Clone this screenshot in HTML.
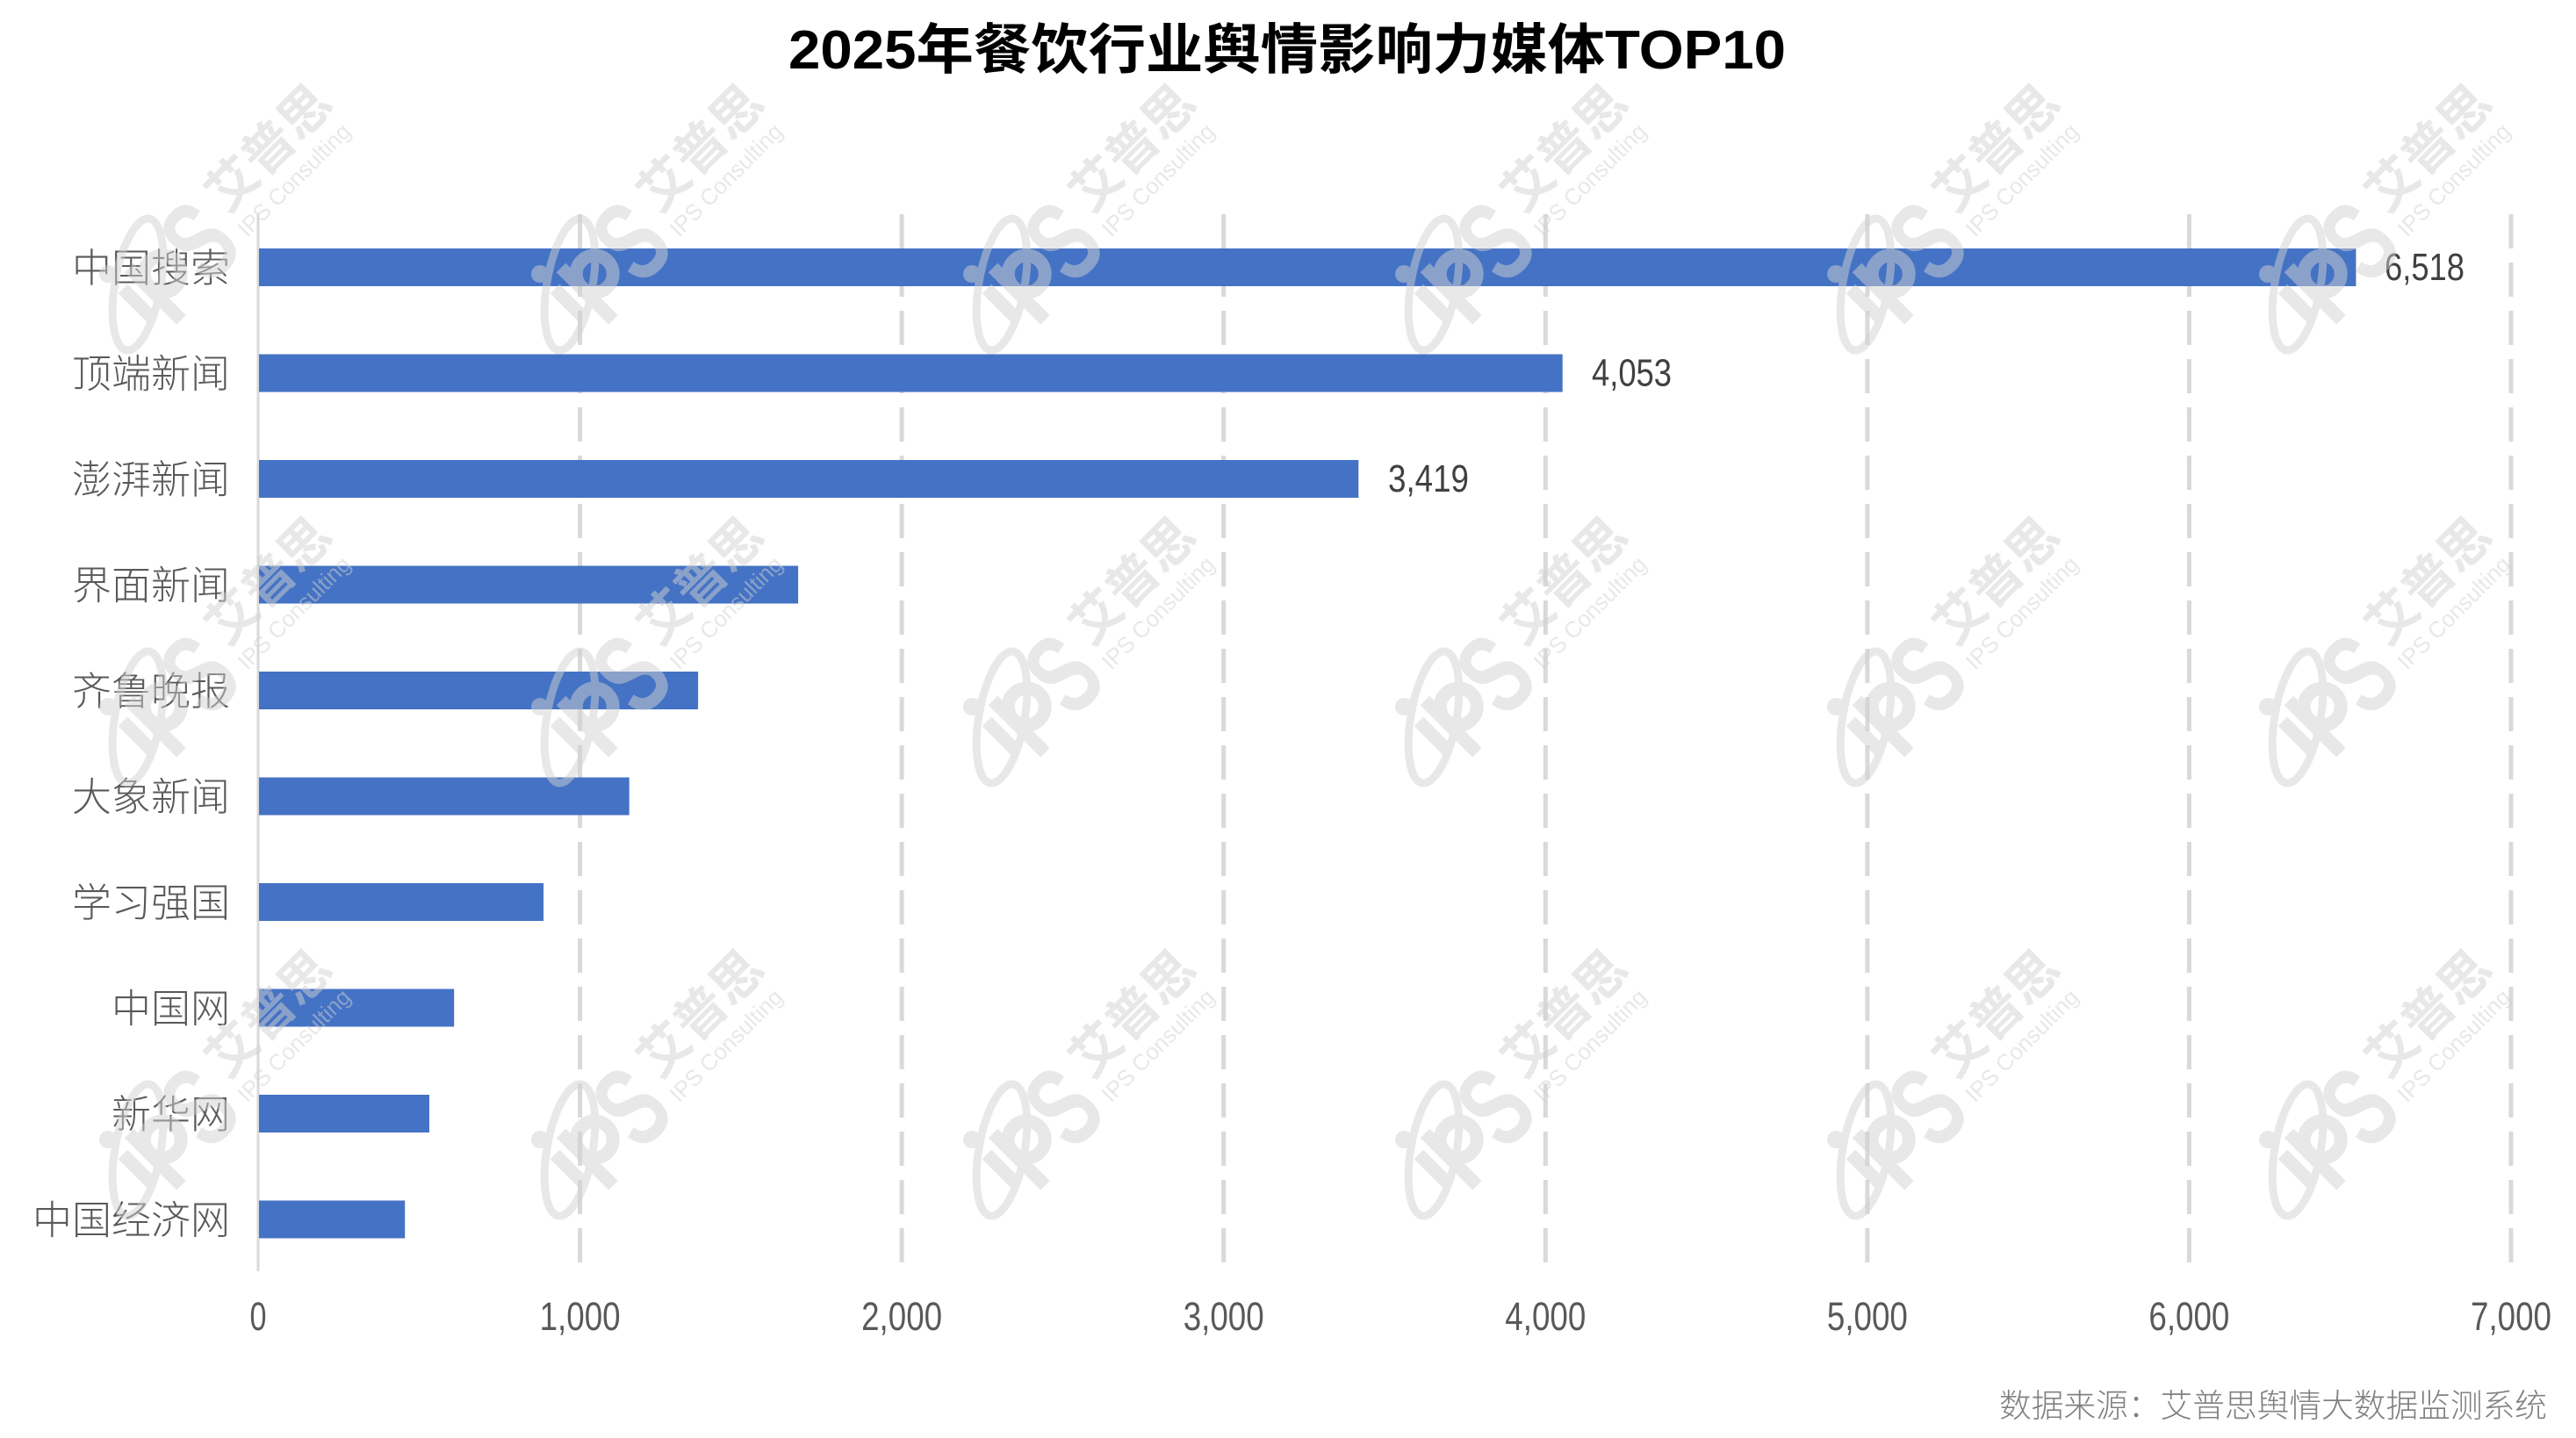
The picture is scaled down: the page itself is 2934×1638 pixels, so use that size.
<!DOCTYPE html>
<html><head><meta charset="utf-8">
<style>
html,body{margin:0;padding:0;background:#fff;width:2934px;height:1638px;overflow:hidden;}
svg{display:block;overflow:hidden;}
.cat{font-family:"Liberation Sans","Noto Sans CJK SC",sans-serif;font-weight:300;font-size:45px;fill:#595959;}
.num{font-family:"Liberation Sans","Noto Sans CJK SC",sans-serif;font-weight:400;font-size:45px;fill:#595959;}
.val{font-family:"Liberation Sans","Noto Sans CJK SC",sans-serif;font-weight:400;font-size:44px;fill:#404040;}
.ttl{font-family:"Liberation Sans","Noto Sans CJK SC",sans-serif;font-weight:700;font-size:62px;fill:#000;}
.src{font-family:"Liberation Sans","Noto Sans CJK SC",sans-serif;font-weight:300;font-size:37px;fill:#808080;}
.wm{opacity:0.5;fill:#d0d0d0;}
.wm .st{fill:none;stroke:#d0d0d0;stroke-width:15;}
.wm .sw{fill:none;stroke:#d0d0d0;stroke-width:9;}
.wm .s{font-family:"Liberation Sans",sans-serif;font-weight:700;font-size:130px;}
.wm .ai{font-family:"Liberation Sans","Noto Sans CJK SC",sans-serif;font-weight:700;font-size:58px;}
.wm .ic{font-family:"Liberation Sans",sans-serif;font-size:26px;}
</style></head>
<body>
<svg width="2934" height="1638" viewBox="0 0 2934 1638" xmlns="http://www.w3.org/2000/svg">
<rect width="2934" height="1638" fill="#fff"/>
<text class="ttl" x="898" y="78" textLength="1136" lengthAdjust="spacingAndGlyphs">2025年餐饮行业舆情影响力媒体TOP10</text>

<g stroke="#d9d9d9" stroke-width="5" stroke-dasharray="39 16">
<line x1="660.6" y1="244" x2="660.6" y2="1441"/>
<line x1="1027.1" y1="244" x2="1027.1" y2="1441"/>
<line x1="1393.7" y1="244" x2="1393.7" y2="1441"/>
<line x1="1760.3" y1="244" x2="1760.3" y2="1441"/>
<line x1="2126.9" y1="244" x2="2126.9" y2="1441"/>
<line x1="2493.4" y1="244" x2="2493.4" y2="1441"/>
<line x1="2860" y1="244" x2="2860" y2="1441"/>
</g>
<line x1="294" y1="244" x2="294" y2="1448" stroke="#d9d9d9" stroke-width="3"/>

<g fill="#4472C4">
<rect x="295" y="283" width="2388.4" height="43"/>
<rect x="295" y="403.5" width="1484.7" height="43"/>
<rect x="295" y="524" width="1252.3" height="43"/>
<rect x="295" y="644.5" width="614.1" height="43"/>
<rect x="295" y="765" width="500.1" height="43"/>
<rect x="295" y="885.5" width="421.7" height="43"/>
<rect x="295" y="1006" width="324.1" height="43"/>
<rect x="295" y="1126.5" width="222.2" height="43"/>
<rect x="295" y="1247" width="194" height="43"/>
<rect x="295" y="1367.5" width="166.2" height="43"/>
</g>

<g class="cat" text-anchor="end">
<text x="262" y="321">中国搜索</text>
<text x="262" y="441.5">顶端新闻</text>
<text x="262" y="562">澎湃新闻</text>
<text x="262" y="682.5">界面新闻</text>
<text x="262" y="803">齐鲁晚报</text>
<text x="262" y="923.5">大象新闻</text>
<text x="262" y="1044">学习强国</text>
<text x="262" y="1164.5">中国网</text>
<text x="262" y="1285">新华网</text>
<text x="262" y="1405.5">中国经济网</text>
</g>

<text class="val" x="2716" y="319" textLength="91" lengthAdjust="spacingAndGlyphs">6,518</text>
<text class="val" x="1813" y="439.5" textLength="91" lengthAdjust="spacingAndGlyphs">4,053</text>
<text class="val" x="1581" y="560" textLength="92" lengthAdjust="spacingAndGlyphs">3,419</text>

<g class="num" text-anchor="middle">
<text x="294" y="1515" textLength="19" lengthAdjust="spacingAndGlyphs">0</text>
<text x="660.6" y="1515" textLength="92" lengthAdjust="spacingAndGlyphs">1,000</text>
<text x="1027.1" y="1515" textLength="92" lengthAdjust="spacingAndGlyphs">2,000</text>
<text x="1393.7" y="1515" textLength="92" lengthAdjust="spacingAndGlyphs">3,000</text>
<text x="1760.3" y="1515" textLength="92" lengthAdjust="spacingAndGlyphs">4,000</text>
<text x="2126.9" y="1515" textLength="92" lengthAdjust="spacingAndGlyphs">5,000</text>
<text x="2493.4" y="1515" textLength="92" lengthAdjust="spacingAndGlyphs">6,000</text>
<text x="2860" y="1515" textLength="92" lengthAdjust="spacingAndGlyphs">7,000</text>
</g>

<text class="src" x="2277" y="1614" textLength="624" lengthAdjust="spacingAndGlyphs">数据来源：艾普思舆情大数据监测系统</text>

<g class="wm">
<g transform="translate(123,312)"><ellipse class="sw" cx="34" cy="12" rx="26" ry="76" transform="rotate(10 34 12)"/><g transform="rotate(-45)"><circle r="10"/><path class="st" d="M0 24V70M22 12V96"/><circle class="st" cx="44" cy="44" r="21"/><text class="s" x="70" y="92" textLength="60" lengthAdjust="spacingAndGlyphs">S</text><text class="ai" x="231" y="48" text-anchor="middle">艾普思</text><text class="ic" x="141" y="83" textLength="169" lengthAdjust="spacingAndGlyphs">IPS Consulting</text></g></g>
<g transform="translate(615,312)"><ellipse class="sw" cx="34" cy="12" rx="26" ry="76" transform="rotate(10 34 12)"/><g transform="rotate(-45)"><circle r="10"/><path class="st" d="M0 24V70M22 12V96"/><circle class="st" cx="44" cy="44" r="21"/><text class="s" x="70" y="92" textLength="60" lengthAdjust="spacingAndGlyphs">S</text><text class="ai" x="231" y="48" text-anchor="middle">艾普思</text><text class="ic" x="141" y="83" textLength="169" lengthAdjust="spacingAndGlyphs">IPS Consulting</text></g></g>
<g transform="translate(1107,312)"><ellipse class="sw" cx="34" cy="12" rx="26" ry="76" transform="rotate(10 34 12)"/><g transform="rotate(-45)"><circle r="10"/><path class="st" d="M0 24V70M22 12V96"/><circle class="st" cx="44" cy="44" r="21"/><text class="s" x="70" y="92" textLength="60" lengthAdjust="spacingAndGlyphs">S</text><text class="ai" x="231" y="48" text-anchor="middle">艾普思</text><text class="ic" x="141" y="83" textLength="169" lengthAdjust="spacingAndGlyphs">IPS Consulting</text></g></g>
<g transform="translate(1599,312)"><ellipse class="sw" cx="34" cy="12" rx="26" ry="76" transform="rotate(10 34 12)"/><g transform="rotate(-45)"><circle r="10"/><path class="st" d="M0 24V70M22 12V96"/><circle class="st" cx="44" cy="44" r="21"/><text class="s" x="70" y="92" textLength="60" lengthAdjust="spacingAndGlyphs">S</text><text class="ai" x="231" y="48" text-anchor="middle">艾普思</text><text class="ic" x="141" y="83" textLength="169" lengthAdjust="spacingAndGlyphs">IPS Consulting</text></g></g>
<g transform="translate(2091,312)"><ellipse class="sw" cx="34" cy="12" rx="26" ry="76" transform="rotate(10 34 12)"/><g transform="rotate(-45)"><circle r="10"/><path class="st" d="M0 24V70M22 12V96"/><circle class="st" cx="44" cy="44" r="21"/><text class="s" x="70" y="92" textLength="60" lengthAdjust="spacingAndGlyphs">S</text><text class="ai" x="231" y="48" text-anchor="middle">艾普思</text><text class="ic" x="141" y="83" textLength="169" lengthAdjust="spacingAndGlyphs">IPS Consulting</text></g></g>
<g transform="translate(2583,312)"><ellipse class="sw" cx="34" cy="12" rx="26" ry="76" transform="rotate(10 34 12)"/><g transform="rotate(-45)"><circle r="10"/><path class="st" d="M0 24V70M22 12V96"/><circle class="st" cx="44" cy="44" r="21"/><text class="s" x="70" y="92" textLength="60" lengthAdjust="spacingAndGlyphs">S</text><text class="ai" x="231" y="48" text-anchor="middle">艾普思</text><text class="ic" x="141" y="83" textLength="169" lengthAdjust="spacingAndGlyphs">IPS Consulting</text></g></g>

<g transform="translate(123,805)"><ellipse class="sw" cx="34" cy="12" rx="26" ry="76" transform="rotate(10 34 12)"/><g transform="rotate(-45)"><circle r="10"/><path class="st" d="M0 24V70M22 12V96"/><circle class="st" cx="44" cy="44" r="21"/><text class="s" x="70" y="92" textLength="60" lengthAdjust="spacingAndGlyphs">S</text><text class="ai" x="231" y="48" text-anchor="middle">艾普思</text><text class="ic" x="141" y="83" textLength="169" lengthAdjust="spacingAndGlyphs">IPS Consulting</text></g></g>
<g transform="translate(615,805)"><ellipse class="sw" cx="34" cy="12" rx="26" ry="76" transform="rotate(10 34 12)"/><g transform="rotate(-45)"><circle r="10"/><path class="st" d="M0 24V70M22 12V96"/><circle class="st" cx="44" cy="44" r="21"/><text class="s" x="70" y="92" textLength="60" lengthAdjust="spacingAndGlyphs">S</text><text class="ai" x="231" y="48" text-anchor="middle">艾普思</text><text class="ic" x="141" y="83" textLength="169" lengthAdjust="spacingAndGlyphs">IPS Consulting</text></g></g>
<g transform="translate(1107,805)"><ellipse class="sw" cx="34" cy="12" rx="26" ry="76" transform="rotate(10 34 12)"/><g transform="rotate(-45)"><circle r="10"/><path class="st" d="M0 24V70M22 12V96"/><circle class="st" cx="44" cy="44" r="21"/><text class="s" x="70" y="92" textLength="60" lengthAdjust="spacingAndGlyphs">S</text><text class="ai" x="231" y="48" text-anchor="middle">艾普思</text><text class="ic" x="141" y="83" textLength="169" lengthAdjust="spacingAndGlyphs">IPS Consulting</text></g></g>
<g transform="translate(1599,805)"><ellipse class="sw" cx="34" cy="12" rx="26" ry="76" transform="rotate(10 34 12)"/><g transform="rotate(-45)"><circle r="10"/><path class="st" d="M0 24V70M22 12V96"/><circle class="st" cx="44" cy="44" r="21"/><text class="s" x="70" y="92" textLength="60" lengthAdjust="spacingAndGlyphs">S</text><text class="ai" x="231" y="48" text-anchor="middle">艾普思</text><text class="ic" x="141" y="83" textLength="169" lengthAdjust="spacingAndGlyphs">IPS Consulting</text></g></g>
<g transform="translate(2091,805)"><ellipse class="sw" cx="34" cy="12" rx="26" ry="76" transform="rotate(10 34 12)"/><g transform="rotate(-45)"><circle r="10"/><path class="st" d="M0 24V70M22 12V96"/><circle class="st" cx="44" cy="44" r="21"/><text class="s" x="70" y="92" textLength="60" lengthAdjust="spacingAndGlyphs">S</text><text class="ai" x="231" y="48" text-anchor="middle">艾普思</text><text class="ic" x="141" y="83" textLength="169" lengthAdjust="spacingAndGlyphs">IPS Consulting</text></g></g>
<g transform="translate(2583,805)"><ellipse class="sw" cx="34" cy="12" rx="26" ry="76" transform="rotate(10 34 12)"/><g transform="rotate(-45)"><circle r="10"/><path class="st" d="M0 24V70M22 12V96"/><circle class="st" cx="44" cy="44" r="21"/><text class="s" x="70" y="92" textLength="60" lengthAdjust="spacingAndGlyphs">S</text><text class="ai" x="231" y="48" text-anchor="middle">艾普思</text><text class="ic" x="141" y="83" textLength="169" lengthAdjust="spacingAndGlyphs">IPS Consulting</text></g></g>

<g transform="translate(123,1298)"><ellipse class="sw" cx="34" cy="12" rx="26" ry="76" transform="rotate(10 34 12)"/><g transform="rotate(-45)"><circle r="10"/><path class="st" d="M0 24V70M22 12V96"/><circle class="st" cx="44" cy="44" r="21"/><text class="s" x="70" y="92" textLength="60" lengthAdjust="spacingAndGlyphs">S</text><text class="ai" x="231" y="48" text-anchor="middle">艾普思</text><text class="ic" x="141" y="83" textLength="169" lengthAdjust="spacingAndGlyphs">IPS Consulting</text></g></g>
<g transform="translate(615,1298)"><ellipse class="sw" cx="34" cy="12" rx="26" ry="76" transform="rotate(10 34 12)"/><g transform="rotate(-45)"><circle r="10"/><path class="st" d="M0 24V70M22 12V96"/><circle class="st" cx="44" cy="44" r="21"/><text class="s" x="70" y="92" textLength="60" lengthAdjust="spacingAndGlyphs">S</text><text class="ai" x="231" y="48" text-anchor="middle">艾普思</text><text class="ic" x="141" y="83" textLength="169" lengthAdjust="spacingAndGlyphs">IPS Consulting</text></g></g>
<g transform="translate(1107,1298)"><ellipse class="sw" cx="34" cy="12" rx="26" ry="76" transform="rotate(10 34 12)"/><g transform="rotate(-45)"><circle r="10"/><path class="st" d="M0 24V70M22 12V96"/><circle class="st" cx="44" cy="44" r="21"/><text class="s" x="70" y="92" textLength="60" lengthAdjust="spacingAndGlyphs">S</text><text class="ai" x="231" y="48" text-anchor="middle">艾普思</text><text class="ic" x="141" y="83" textLength="169" lengthAdjust="spacingAndGlyphs">IPS Consulting</text></g></g>
<g transform="translate(1599,1298)"><ellipse class="sw" cx="34" cy="12" rx="26" ry="76" transform="rotate(10 34 12)"/><g transform="rotate(-45)"><circle r="10"/><path class="st" d="M0 24V70M22 12V96"/><circle class="st" cx="44" cy="44" r="21"/><text class="s" x="70" y="92" textLength="60" lengthAdjust="spacingAndGlyphs">S</text><text class="ai" x="231" y="48" text-anchor="middle">艾普思</text><text class="ic" x="141" y="83" textLength="169" lengthAdjust="spacingAndGlyphs">IPS Consulting</text></g></g>
<g transform="translate(2091,1298)"><ellipse class="sw" cx="34" cy="12" rx="26" ry="76" transform="rotate(10 34 12)"/><g transform="rotate(-45)"><circle r="10"/><path class="st" d="M0 24V70M22 12V96"/><circle class="st" cx="44" cy="44" r="21"/><text class="s" x="70" y="92" textLength="60" lengthAdjust="spacingAndGlyphs">S</text><text class="ai" x="231" y="48" text-anchor="middle">艾普思</text><text class="ic" x="141" y="83" textLength="169" lengthAdjust="spacingAndGlyphs">IPS Consulting</text></g></g>
<g transform="translate(2583,1298)"><ellipse class="sw" cx="34" cy="12" rx="26" ry="76" transform="rotate(10 34 12)"/><g transform="rotate(-45)"><circle r="10"/><path class="st" d="M0 24V70M22 12V96"/><circle class="st" cx="44" cy="44" r="21"/><text class="s" x="70" y="92" textLength="60" lengthAdjust="spacingAndGlyphs">S</text><text class="ai" x="231" y="48" text-anchor="middle">艾普思</text><text class="ic" x="141" y="83" textLength="169" lengthAdjust="spacingAndGlyphs">IPS Consulting</text></g></g>
</g>
</svg>
</body></html>
